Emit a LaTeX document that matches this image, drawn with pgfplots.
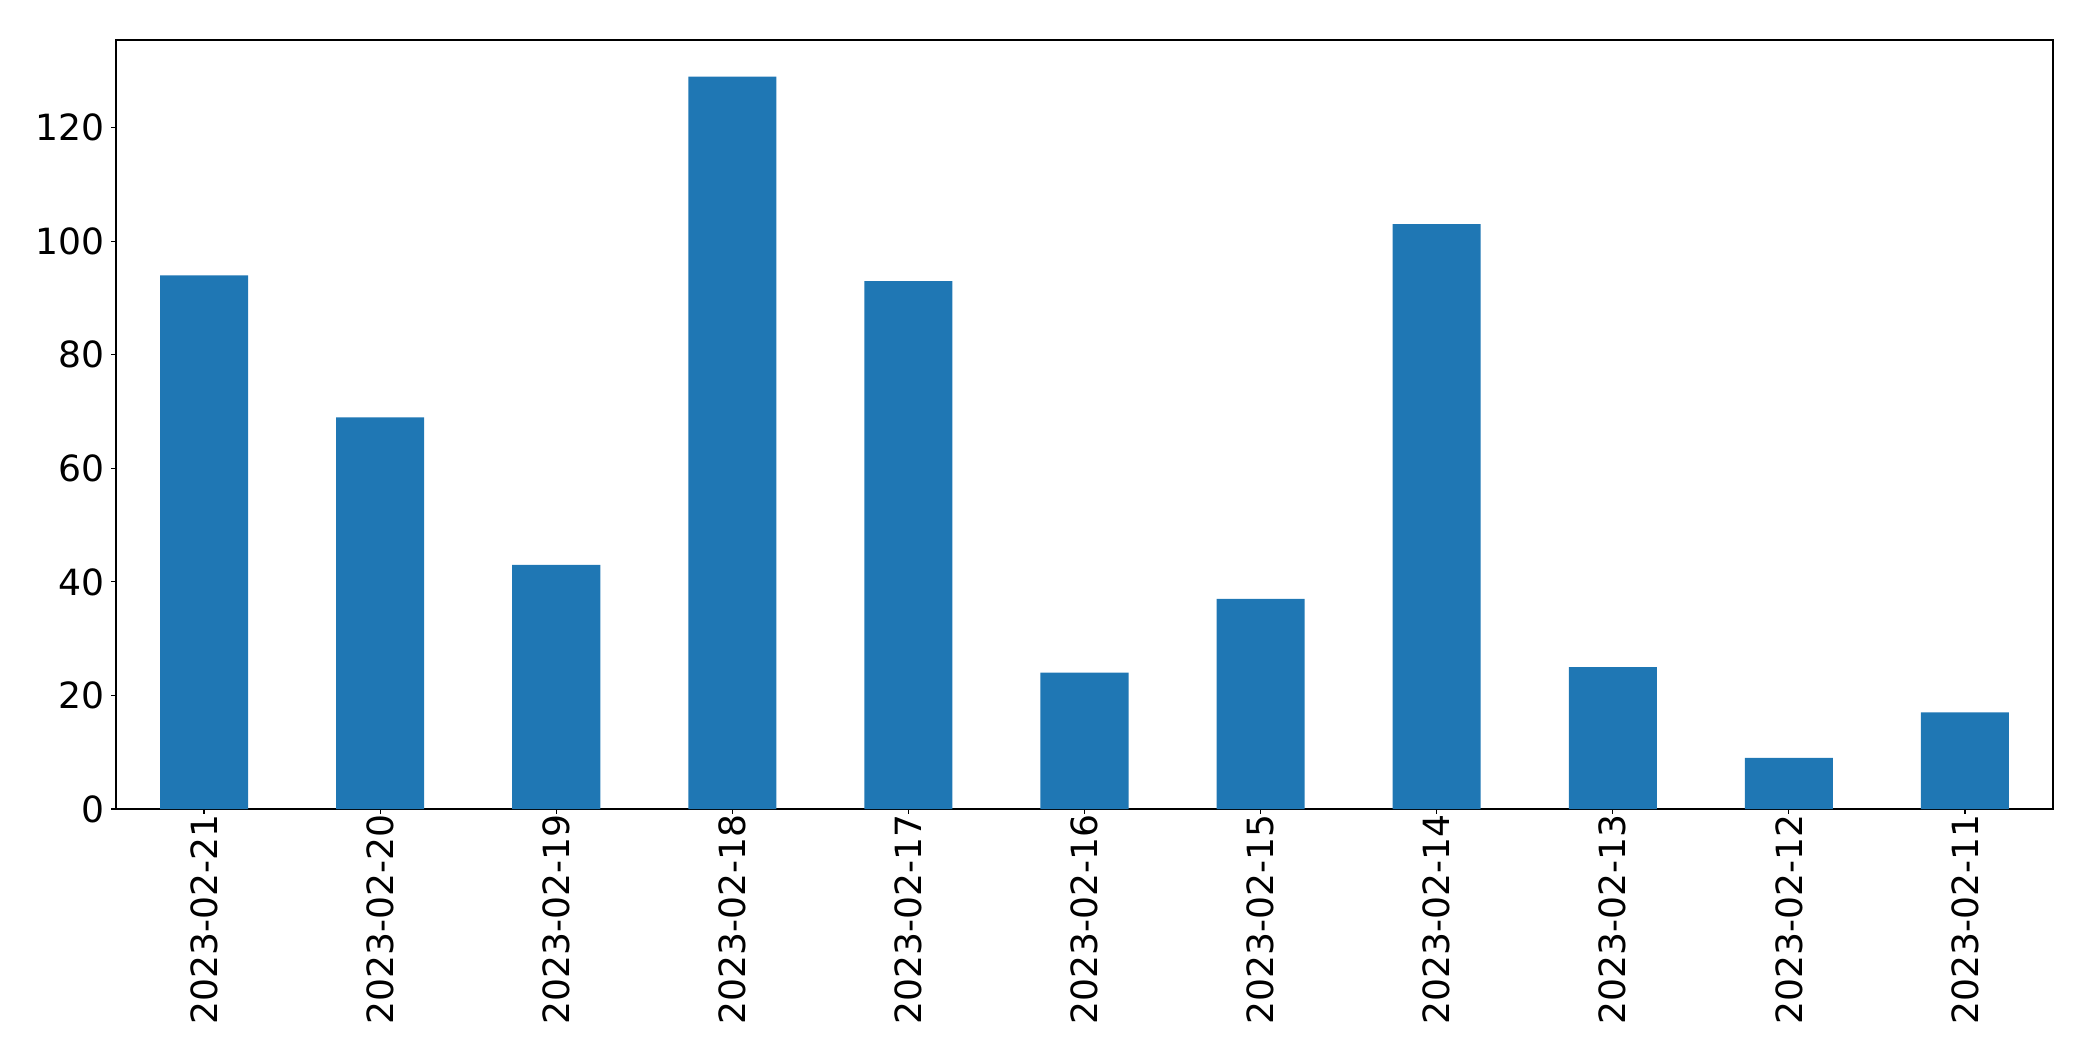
\documentclass[border=0pt]{standalone}
\usepackage{pgfplots}
\pgfplotsset{compat=1.18}
\usepackage{fontspec}
\setmainfont{DejaVu Sans}
\definecolor{mplblue}{HTML}{1F77B4}
\begin{document}
\begin{tikzpicture}
\useasboundingbox (-83.52pt,-181.44pt) rectangle (1423.44pt,582.48pt);
\begin{axis}[
  at={(0pt,0pt)}, anchor=south west,
  scale only axis,
  width=1394.64pt, height=553.68pt,
  xmin=-0.5, xmax=10.5,
  ymin=0, ymax=135.45,
  xtick={0,...,10},
  xticklabels={2023-02-21,2023-02-20,2023-02-19,2023-02-18,2023-02-17,2023-02-16,2023-02-15,2023-02-14,2023-02-13,2023-02-12,2023-02-11},
  ytick={0,20,40,60,80,100,120},
  tick align=outside,
  tick pos=left,
  major tick length=3.5pt,
  every tick/.style={black, line width=0.8pt},
  axis line style={line width=0.8pt},
  /pgf/number format/assume math mode=true,
  ticklabel style={font=\fontsize{26}{31.2}\selectfont},
  xticklabel style={rotate=90, anchor=east, inner sep=0pt},
  yticklabel style={anchor=east, inner sep=0pt, xshift=-4.5pt},
]
\addplot[ybar, bar width=0.5, fill=mplblue, draw=none] coordinates {
(0,94) (1,69) (2,43) (3,129) (4,93) (5,24) (6,37) (7,103) (8,25) (9,9) (10,17)
};
\end{axis}
\end{tikzpicture}
\end{document}
